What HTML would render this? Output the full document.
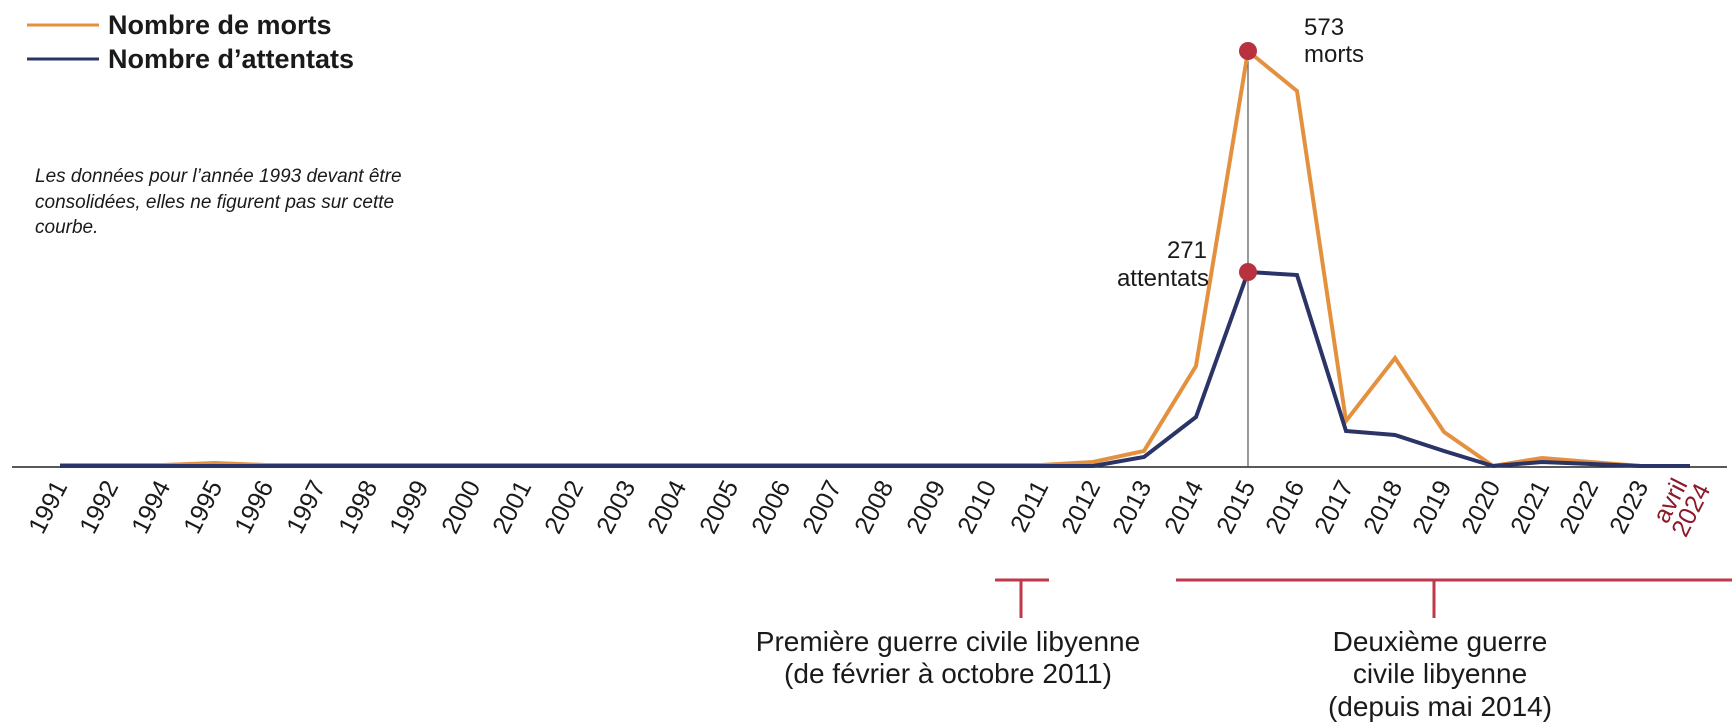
<!DOCTYPE html>
<html><head><meta charset="utf-8"><style>
html,body{margin:0;padding:0;background:#fff;}
svg{display:block;font-family:"Liberation Sans",sans-serif;}
</style></head><body>
<svg width="1736" height="728" viewBox="0 0 1736 728" xmlns="http://www.w3.org/2000/svg">
<line x1="27" y1="25" x2="99" y2="25" stroke="#e4913f" stroke-width="3"/>
<line x1="27" y1="59" x2="99" y2="59" stroke="#2a3466" stroke-width="3"/>
<text x="108" y="34" font-size="27" font-weight="bold" fill="#1a1a1a">Nombre de morts</text>
<text x="108" y="68" font-size="27" font-weight="bold" fill="#1a1a1a">Nombre d’attentats</text>
<g font-size="19" font-style="italic" fill="#1a1a1a">
<text x="35" y="182">Les données pour l’année 1993 devant être</text>
<text x="35" y="208">consolidées, elles ne figurent pas sur cette</text>
<text x="35" y="233">courbe.</text>
</g>
<line x1="12" y1="467" x2="1727" y2="467" stroke="#222" stroke-width="1.5"/>
<line x1="1248" y1="51" x2="1248" y2="467" stroke="#555" stroke-width="1.2"/>
<polyline fill="none" stroke="#e4913f" stroke-width="4" points="60,465 111,465 163,465 215,463 266,465 318,465 370,465 421,465 473,465 524,465 576,465 628,465 679,465 731,465 783,465 834,465 886,465 938,465 989,465 1041,465 1093,462 1144,451 1196,366 1248,51 1297,91 1346,421 1395,358 1444,432 1493,466 1542,458 1591,462 1641,466 1690,466"/>
<polyline fill="none" stroke="#2a3466" stroke-width="4" points="60,466 111,466 163,466 215,466 266,466 318,466 370,466 421,466 473,466 524,466 576,466 628,466 679,466 731,466 783,466 834,466 886,466 938,466 989,466 1041,466 1093,466 1144,457 1196,417 1248,272 1297,275 1346,431 1395,435 1444,451 1493,466 1542,462 1591,464 1641,466 1690,466"/>
<circle cx="1248" cy="51" r="9" fill="#b8313e"/>
<circle cx="1248" cy="272" r="9" fill="#b8313e"/>
<g font-size="24" fill="#1a1a1a">
<text x="1304" y="35">573</text>
<text x="1304" y="62">morts</text>
<text x="1207" y="258" text-anchor="end">271</text>
<text x="1209" y="286" text-anchor="end">attentats</text>
</g>
<g font-size="25" fill="#1a1a1a" text-anchor="end">
<text transform="translate(68,486) rotate(-63)">1991</text>
<text transform="translate(119,486) rotate(-63)">1992</text>
<text transform="translate(171,486) rotate(-63)">1994</text>
<text transform="translate(223,486) rotate(-63)">1995</text>
<text transform="translate(274,486) rotate(-63)">1996</text>
<text transform="translate(326,486) rotate(-63)">1997</text>
<text transform="translate(378,486) rotate(-63)">1998</text>
<text transform="translate(429,486) rotate(-63)">1999</text>
<text transform="translate(481,486) rotate(-63)">2000</text>
<text transform="translate(532,486) rotate(-63)">2001</text>
<text transform="translate(584,486) rotate(-63)">2002</text>
<text transform="translate(636,486) rotate(-63)">2003</text>
<text transform="translate(687,486) rotate(-63)">2004</text>
<text transform="translate(739,486) rotate(-63)">2005</text>
<text transform="translate(791,486) rotate(-63)">2006</text>
<text transform="translate(842,486) rotate(-63)">2007</text>
<text transform="translate(894,486) rotate(-63)">2008</text>
<text transform="translate(946,486) rotate(-63)">2009</text>
<text transform="translate(997,486) rotate(-63)">2010</text>
<text transform="translate(1049,486) rotate(-63)">2011</text>
<text transform="translate(1101,486) rotate(-63)">2012</text>
<text transform="translate(1152,486) rotate(-63)">2013</text>
<text transform="translate(1204,486) rotate(-63)">2014</text>
<text transform="translate(1256,486) rotate(-63)">2015</text>
<text transform="translate(1305,486) rotate(-63)">2016</text>
<text transform="translate(1354,486) rotate(-63)">2017</text>
<text transform="translate(1403,486) rotate(-63)">2018</text>
<text transform="translate(1452,486) rotate(-63)">2019</text>
<text transform="translate(1501,486) rotate(-63)">2020</text>
<text transform="translate(1550,486) rotate(-63)">2021</text>
<text transform="translate(1599,486) rotate(-63)">2022</text>
<text transform="translate(1649,486) rotate(-63)">2023</text>
<g fill="#8b1a2b">
<text transform="translate(1688,484) rotate(-63)">avril</text>
<text transform="translate(1711,489) rotate(-63)">2024</text>
</g>
</g>
<g stroke="#c0394a" stroke-width="3">
<line x1="995" y1="580" x2="1049" y2="580"/>
<line x1="1021" y1="580" x2="1021" y2="618"/>
<line x1="1176" y1="580" x2="1732" y2="580"/>
<line x1="1434" y1="580" x2="1434" y2="618"/>
</g>
<g font-size="28" fill="#1a1a1a" text-anchor="middle">
<text x="948" y="651">Première guerre civile libyenne</text>
<text x="948" y="683">(de février à octobre 2011)</text>
<text x="1440" y="651">Deuxième guerre</text>
<text x="1440" y="683">civile libyenne</text>
<text x="1440" y="716">(depuis mai 2014)</text>
</g>
</svg>
</body></html>
